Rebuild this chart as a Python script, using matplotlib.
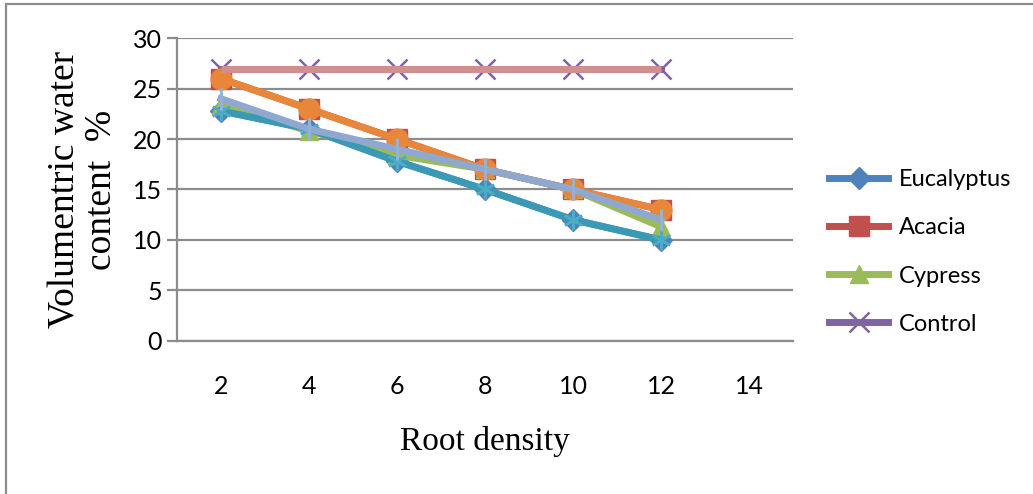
import numpy as np
import matplotlib.pyplot as plt
from matplotlib.patches import Rectangle

# root density classes and volumetric water content (%)
root_density = [2, 4, 6, 8, 10, 12]
x_ticks = [2, 4, 6, 8, 10, 12, 14]
y_ticks = [0, 5, 10, 15, 20, 25, 30]

eucalyptus = [22.8, 21, 17.8, 15, 12, 10]
acacia = [26, 23, 20, 17, 15, 13]
cypress = [23.4, 20.8, 18.4, 17, 15, 11.3]
control = [27, 27, 27, 27, 27, 27]

# extra series plotted on top of the main four (not in the legend)
eucalyptus_b = [22.8, 21, 17.8, 15, 12, 10]
acacia_b = [26, 23, 20, 17, 15, 13]
cypress_b = [24, 21, 19, 17, 15, 12]
control_b = [27, 27, 27, 27, 27, 27]

W, H = 1033, 494
fig = plt.figure(figsize=(W / 100, H / 100), dpi=100)
ax = fig.add_axes([177 / W, 1 - 340.7 / H, (793 - 177) / W, (340.7 - 38.3) / H])

tick_font = ['Liberation Sans Narrow', 'Lato', 'DejaVu Sans']
serif = ['Liberation Serif', 'DejaVu Serif']

lw = 5
ax.plot(root_density, eucalyptus, color='#4F81BD', lw=lw, marker='D', ms=11,
        label='Eucalyptus', zorder=3)
ax.plot(root_density, acacia, color='#C0504D', lw=lw, marker='s', ms=14,
        label='Acacia', zorder=3)
ax.plot(root_density, cypress, color='#9BBB59', lw=lw, marker='^', ms=13,
        label='Cypress', zorder=3)
ax.plot(root_density, control, color='#8064A2', lw=lw, marker='x', ms=14,
        mew=1.8, label='Control', zorder=3)

ax.plot(root_density, eucalyptus_b, color='#3A9AB5', lw=lw, marker=(6, 2, 0),
        ms=14, mew=1.8, mec='#4BACC6', zorder=4)
ax.plot(root_density, acacia_b, color='#E8873A', lw=lw, marker='o', ms=15,
        mec='#E8873A', zorder=4)
ax.plot(root_density, cypress_b, color='#8FA8D0', lw=lw, marker='|', ms=16,
        mew=2, mec='#95B3D7', zorder=4)
ax.plot(root_density, control_b, color='#D48E8E', lw=lw, zorder=4,
        solid_capstyle='butt')

ax.set_xlim(1, 15)
ax.set_ylim(0, 30)
ax.set_xticks(x_ticks)
ax.set_yticks(y_ticks)
ax.grid(axis='y', color='#8C8C8C', lw=1.6)
ax.set_axisbelow(True)

for s in ['top', 'right']:
    ax.spines[s].set_visible(False)
for s in ['left', 'bottom']:
    ax.spines[s].set_color('#8C8C8C')
    ax.spines[s].set_linewidth(1.6)

ax.tick_params(axis='y', length=7, width=1.6, color='#8C8C8C', pad=4)
ax.tick_params(axis='x', length=0, pad=25)
for lab in ax.get_xticklabels() + ax.get_yticklabels():
    lab.set_fontfamily(tick_font)
    lab.set_fontsize(18)

ax.set_xlabel('Root density', fontfamily=serif, fontsize=24, labelpad=20)
ax.set_ylabel('Volumentric water\ncontent  %', fontfamily=serif, fontsize=27,
              labelpad=10, linespacing=1.05)

ax.legend(loc='center left', bbox_to_anchor=(829 / W, 1 - 252 / H),
          bbox_transform=fig.transFigure, frameon=False,
          prop={'family': tick_font, 'size': 17}, handlelength=2.5,
          handletextpad=0.45, labelspacing=1.15, borderaxespad=0,
          borderpad=0)

# gray chart border
fig.patches.append(Rectangle((6 / W, -0.05), 1.1, 1 - 3.5 / H + 0.05,
                             transform=fig.transFigure, fill=False,
                             edgecolor='#8C8C8C', lw=1.6))

fig.savefig('out.png', dpi=100)
